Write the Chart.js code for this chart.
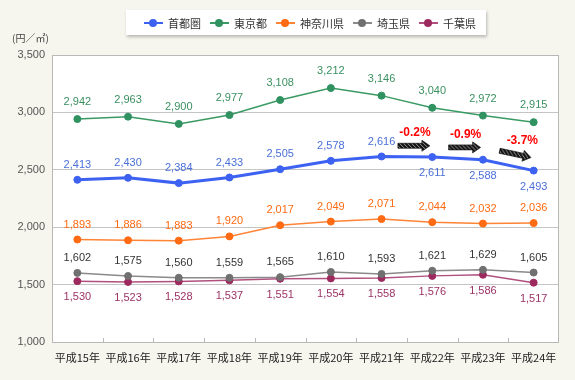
<!DOCTYPE html>
<html>
<head>
<meta charset="utf-8">
<script src="https://cdn.jsdelivr.net/npm/chart.js@4/dist/chart.umd.min.js"></script>
<style>
  body { margin: 0; background: #f6f5ee; }
  #wrap { position: relative; width: 575px; height: 380px; }
  #legend {
    position: absolute; left: 126px; top: 10px; width: 360px; height: 25px;
    background: #fff; box-shadow: 1px 2px 3px rgba(0,0,0,0.25);
    display: flex; align-items: center; padding-left: 18px; box-sizing: border-box;
    font: 11px "Noto Sans CJK JP", sans-serif; color: #333;
  }
  .item { display: flex; align-items: center; margin-right: 9px; }
  .icon { position: relative; width: 19px; height: 10px; margin-right: 5px; }
  .icon .ln { position: absolute; left: 0; right: 0; top: 4px; height: 2px; }
  .icon .dot { position: absolute; left: 5px; top: 1px; width: 8px; height: 8px; border-radius: 50%; }
</style>
</head>
<body>
<div id="wrap">
  <canvas id="chart" width="575" height="380"></canvas>
  <div id="legend"></div>
</div>
<script>
const years = ['平成15年', '平成16年', '平成17年', '平成18年', '平成19年', '平成20年', '平成21年', '平成22年', '平成23年', '平成24年'];
const names = ['首都圏', '東京都', '神奈川県', '埼玉県', '千葉県'];
const shutoken = [2413, 2430, 2384, 2433, 2505, 2578, 2616, 2611, 2588, 2493];
const tokyo = [2942, 2963, 2900, 2977, 3108, 3212, 3146, 3040, 2972, 2915];
const kanagawa = [1893, 1886, 1883, 1920, 2017, 2049, 2071, 2044, 2032, 2036];
const saitama = [1602, 1575, 1560, 1559, 1565, 1610, 1593, 1621, 1629, 1605];
const chiba = [1530, 1523, 1528, 1537, 1551, 1554, 1558, 1576, 1586, 1517];
const changes = ['-0.2%', '-0.9%', '-3.7%']; // 首都圏, 平成22〜24年
const yTicks = [1000, 1500, 2000, 2500, 3000, 3500];

const lineColors = ['#3d62f2', '#3a9a63', '#ff8436', '#8a8a8a', '#b0507e'];
const dotColors = ['#3d62f2', '#2f9260', '#ff6a13', '#707070', '#9c2a5e'];
const labelColors = ['#4a6fd8', '#3a9060', '#ff6a13', '#333333', '#9c3366'];
const seriesData = [shutoken, tokyo, kanagawa, saitama, chiba];

// legend
const legend = document.getElementById('legend');
names.forEach((n, i) => {
  const el = document.createElement('div');
  el.className = 'item';
  el.innerHTML = '<span class="icon"><span class="ln" style="background:' + lineColors[i] +
    '"></span><span class="dot" style="background:' + dotColors[i] + '"></span></span>' + n;
  legend.appendChild(el);
});

function hatch() {
  const c = document.createElement('canvas');
  c.width = 4; c.height = 4;
  const g = c.getContext('2d');
  g.fillStyle = '#111';
  g.fillRect(0, 0, 4, 4);
  g.strokeStyle = '#a0a0a0';
  g.lineWidth = 1;
  g.beginPath();
  g.moveTo(0, 0); g.lineTo(4, 4);
  g.stroke();
  return c;
}

const deco = {
  id: 'deco',
  beforeDraw(chart) {
    const { ctx, chartArea: a } = chart;
    ctx.save();
    ctx.fillStyle = '#fff';
    ctx.fillRect(a.left, a.top, a.right - a.left, a.bottom - a.top);
    ctx.fillStyle = '#444';
    ctx.font = '10px "Noto Sans CJK JP", sans-serif';
    ctx.textBaseline = 'middle';
    ctx.fillText('(円／㎡)', 12, 38);
    ctx.restore();
  },
  afterDraw(chart) {
    const { ctx, chartArea: a } = chart;
    ctx.save();
    ctx.strokeStyle = '#b8b8b8';
    ctx.lineWidth = 1;
    ctx.strokeRect(a.left + 0.5, a.top + 0.5, a.right - a.left - 1, a.bottom - a.top);
    const w = (a.right - a.left) / years.length;
    ctx.beginPath();
    for (let i = 1; i < years.length; i++) {
      const x = Math.round(a.left + i * w) + 0.5;
      ctx.moveTo(x, a.bottom);
      ctx.lineTo(x, a.bottom - 4);
    }
    ctx.stroke();
    ctx.restore();
  },
  afterDatasetsDraw(chart) {
    const ctx = chart.ctx;
    ctx.save();
    ctx.font = '11px "Liberation Sans", Arial, sans-serif';
    ctx.textAlign = 'center';
    ctx.textBaseline = 'middle';
    chart.data.datasets.forEach((ds, di) => {
      const meta = chart.getDatasetMeta(di);
      ctx.fillStyle = labelColors[di];
      meta.data.forEach((pt, i) => {
        let below = di === 4 || (di === 0 && i >= 7);
        let off = di === 1 ? 17 : 15;
        const y = below ? pt.y + 16 : pt.y - off;
        ctx.fillText(ds.data[i].toLocaleString('en-US'), pt.x, y);
      });
    });
    // change arrows on 首都圏
    const blue = chart.getDatasetMeta(0).data;
    const pat = ctx.createPattern(hatch(), 'repeat');
    changes.forEach((txt, k) => {
      const p0 = blue[6 + k], p1 = blue[7 + k];
      const ang = Math.abs(p1.y - p0.y) < 4 ? 0 : Math.atan2(p1.y - p0.y, p1.x - p0.x);
      const cx = (p0.x + p1.x) / 2 + 7;
      const cy = (p0.y + p1.y) / 2 - 11;
      ctx.save();
      ctx.translate(cx, cy);
      ctx.rotate(ang);
      ctx.beginPath();
      ctx.moveTo(-16, -2.5);
      ctx.lineTo(8, -2.5);
      ctx.lineTo(8, -5.5);
      ctx.lineTo(16, 0);
      ctx.lineTo(8, 5.5);
      ctx.lineTo(8, 2.5);
      ctx.lineTo(-16, 2.5);
      ctx.closePath();
      ctx.fillStyle = pat;
      ctx.fill();
      ctx.strokeStyle = '#000';
      ctx.lineWidth = 0.6;
      ctx.stroke();
      ctx.restore();
      ctx.fillStyle = '#ff0000';
      ctx.font = 'bold 12px "Liberation Sans", Arial, sans-serif';
      ctx.fillText(txt, cx + (ang ? 7 : 1), cy - 13);
    });
    ctx.restore();
  }
};

new Chart(document.getElementById('chart'), {
  type: 'line',
  data: {
    labels: years,
    datasets: seriesData.map((d, i) => ({
      label: names[i],
      data: d,
      borderColor: lineColors[i],
      backgroundColor: dotColors[i],
      pointBackgroundColor: dotColors[i],
      pointBorderColor: dotColors[i],
      pointRadius: 3.5,
      pointBorderWidth: 1,
      borderWidth: i === 0 ? 3 : 1.5,
      tension: 0
    }))
  },
  options: {
    responsive: false,
    animation: false,
    layout: { padding: { top: 55, right: 16, left: 0, bottom: 0 } },
    plugins: { legend: { display: false }, tooltip: { enabled: false } },
    scales: {
      x: {
        offset: true,
        grid: { display: false, drawTicks: false },
        border: { display: false },
        ticks: { color: '#222', padding: 9, font: { size: 11, family: '"Noto Sans CJK JP", sans-serif' }, maxRotation: 0 },
        afterFit(s) { s.height = 38; }
      },
      y: {
        min: 1000, max: 3500,
        afterBuildTicks(s) { s.ticks = yTicks.map(v => ({ value: v })); },
        grid: { color: '#c4c4c4', drawTicks: false },
        border: { display: false },
        ticks: {
          color: '#555', padding: 7,
          font: { size: 11, family: '"Liberation Sans", Arial, sans-serif' },
          callback: v => v.toLocaleString('en-US')
        },
        afterFit(s) { s.width = 52; }
      }
    }
  },
  plugins: [deco]
});
</script>
</body>
</html>
